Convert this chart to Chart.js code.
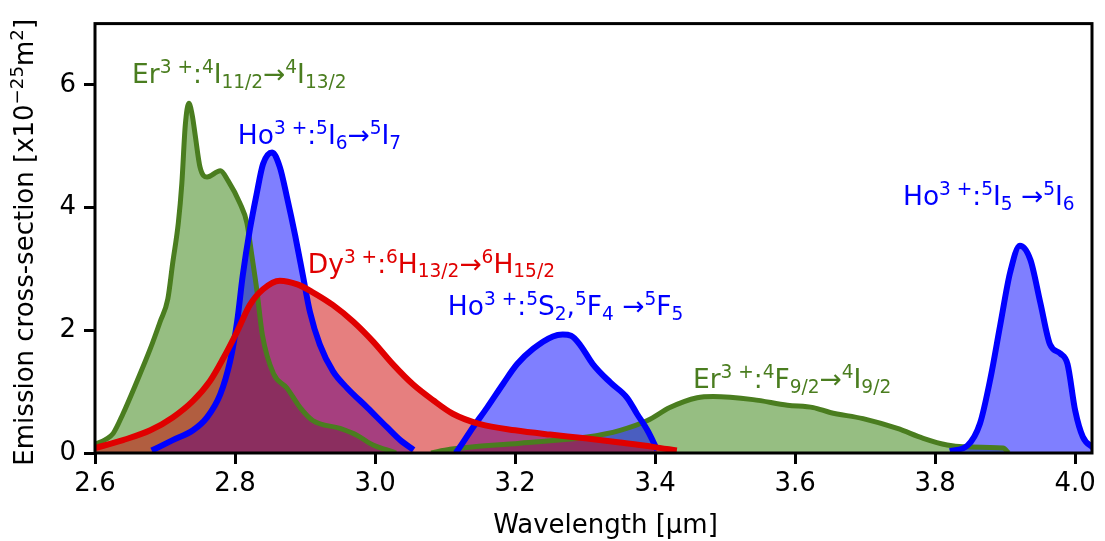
<!DOCTYPE html>
<html>
<head>
<meta charset="utf-8">
<script src="https://cdn.jsdelivr.net/npm/chart.js@4"></script>
<style>
  html, body { margin: 0; padding: 0; background: #fff; }
  canvas { display: block; }
</style>
</head>
<body>
<canvas id="chartCanvas" width="1105" height="541"></canvas>
<script>
// axis ticks
const xTicks = [2.6, 2.8, 3.0, 3.2, 3.4, 3.6, 3.8, 4.0];
const yTicks = [0, 2, 4, 6];

// Er3+ 4I11/2 -> 4I13/2
const erAx = [2.600, 2.615, 2.626, 2.640, 2.660, 2.679, 2.693, 2.704, 2.711, 2.719, 2.724, 2.729, 2.734, 2.739, 2.743, 2.750, 2.760, 2.779, 2.790, 2.807, 2.817, 2.824, 2.831, 2.839, 2.855, 2.874, 2.893, 2.911, 2.950, 2.974, 2.997, 3.017, 3.030];
const erAy = [0.14, 0.22, 0.32, 0.64, 1.17, 1.70, 2.14, 2.51, 3.10, 3.75, 4.39, 5.35, 5.70, 5.50, 5.19, 4.66, 4.50, 4.60, 4.44, 4.07, 3.75, 3.22, 2.67, 1.93, 1.29, 1.06, 0.74, 0.53, 0.40, 0.29, 0.13, 0.05, 0.00];

// Er3+ 4F9/2 -> 4I9/2
const erBx = [3.080, 3.107, 3.207, 3.303, 3.350, 3.389, 3.421, 3.460, 3.483, 3.540, 3.589, 3.626, 3.650, 3.697, 3.746, 3.783, 3.817, 3.840, 3.897, 3.905];
const erBy = [0.00, 0.06, 0.16, 0.26, 0.37, 0.53, 0.74, 0.90, 0.92, 0.87, 0.78, 0.74, 0.66, 0.56, 0.40, 0.24, 0.13, 0.10, 0.08, 0.00];

// Ho3+ 5I6 -> 5I7
const hoAx = [2.681, 2.711, 2.740, 2.760, 2.779, 2.793, 2.803, 2.811, 2.821, 2.831, 2.840, 2.853, 2.864, 2.874, 2.886, 2.897, 2.907, 2.921, 2.940, 2.960, 2.989, 3.017, 3.036, 3.055];
const hoAy = [0.04, 0.21, 0.37, 0.58, 0.96, 1.50, 2.14, 2.89, 3.63, 4.23, 4.71, 4.90, 4.66, 4.18, 3.54, 2.89, 2.30, 1.77, 1.33, 1.06, 0.74, 0.42, 0.21, 0.05];

// Ho3+ 5S2,5F4 -> 5F5
const hoBx = [3.115, 3.119, 3.140, 3.160, 3.183, 3.203, 3.226, 3.254, 3.268, 3.280, 3.293, 3.311, 3.336, 3.360, 3.374, 3.389, 3.403];
const hoBy = [0.00, 0.06, 0.42, 0.74, 1.13, 1.45, 1.70, 1.90, 1.93, 1.91, 1.76, 1.45, 1.15, 0.90, 0.64, 0.37, 0.05];

// Ho3+ 5I5 -> 5I6
const hoCx = [3.821, 3.846, 3.864, 3.879, 3.893, 3.907, 3.921, 3.936, 3.950, 3.964, 3.979, 3.989, 4.000, 4.011, 4.026];
const hoCy = [0.03, 0.12, 0.48, 1.22, 2.09, 2.94, 3.38, 3.15, 2.46, 1.77, 1.62, 1.45, 0.69, 0.26, 0.08];

// Dy3+ 6H13/2 -> 6H15/2
const dyX = [2.600, 2.640, 2.679, 2.711, 2.740, 2.764, 2.783, 2.803, 2.821, 2.840, 2.864, 2.889, 2.911, 2.940, 2.969, 2.997, 3.026, 3.054, 3.083, 3.111, 3.150, 3.200, 3.250, 3.300, 3.350, 3.397, 3.431];
const dyY = [0.08, 0.21, 0.37, 0.58, 0.85, 1.17, 1.54, 1.98, 2.41, 2.67, 2.81, 2.75, 2.62, 2.41, 2.14, 1.82, 1.44, 1.12, 0.86, 0.64, 0.47, 0.37, 0.30, 0.24, 0.17, 0.10, 0.04];

// annotation anchors (data coords, left / baseline)
const labelX = [2.653, 2.804, 2.904, 3.104, 3.454, 3.754];
const labelY = [6.03, 5.03, 2.94, 2.25, 1.06, 4.04];
const labelParts = [
  [["Er", "n"], ["3 +", "sup"], [":", "n"], ["4", "sup"], ["I", "n"], ["11/2", "sub"], ["→", "n"], ["4", "sup"], ["I", "n"], ["13/2", "sub"]],
  [["Ho", "n"], ["3 +", "sup"], [":", "n"], ["5", "sup"], ["I", "n"], ["6", "sub"], ["→", "n"], ["5", "sup"], ["I", "n"], ["7", "sub"]],
  [["Dy", "n"], ["3 +", "sup"], [":", "n"], ["6", "sup"], ["H", "n"], ["13/2", "sub"], ["→", "n"], ["6", "sup"], ["H", "n"], ["15/2", "sub"]],
  [["Ho", "n"], ["3 +", "sup"], [":", "n"], ["5", "sup"], ["S", "n"], ["2", "sub"], [",", "n"], ["5", "sup"], ["F", "n"], ["4", "sub"], [" →", "n"], ["5", "sup"], ["F", "n"], ["5", "sub"]],
  [["Er", "n"], ["3 +", "sup"], [":", "n"], ["4", "sup"], ["F", "n"], ["9/2", "sub"], ["→", "n"], ["4", "sup"], ["I", "n"], ["9/2", "sub"]],
  [["Ho", "n"], ["3 +", "sup"], [":", "n"], ["5", "sup"], ["I", "n"], ["5", "sub"], [" →", "n"], ["5", "sup"], ["I", "n"], ["6", "sub"]],
];
const labelColors = ["#4a7d1f", "#0000ff", "#e00000", "#0000ff", "#4a7d1f", "#0000ff"];

const yTitle = [["Emission cross-section [x10", "n"], ["−25", "sup"], ["m", "n"], ["2", "sup"], ["]", "n"]];

const FONT = '"DejaVu Sans"';
const FS = 26;
const LABEL_FS = 26.5;

const pts = (xs, ys) => xs.map((x, i) => ({ x: x, y: ys[i] }));

const band = (xs, ys, line, fill, width, order) => ({
  data: pts(xs, ys),
  borderColor: line,
  backgroundColor: fill,
  borderWidth: width,
  fill: "origin",
  pointRadius: 0,
  cubicInterpolationMode: "monotone",
  order: order,
});

const drawMath = (ctx, parts, x, y, size) => {
  let cx = x;
  parts.forEach(([txt, kind]) => {
    const s = kind === "n" ? size : size * 0.7;
    const dy = kind === "sup" ? -size * 0.38 : kind === "sub" ? size * 0.18 : 0;
    ctx.font = `${s}px ${FONT}`;
    ctx.fillText(txt, cx, y + dy);
    cx += ctx.measureText(txt).width;
  });
  return cx - x;
};

const mathWidth = (ctx, parts, size) => {
  let w = 0;
  parts.forEach(([txt, kind]) => {
    ctx.font = `${kind === "n" ? size : size * 0.7}px ${FONT}`;
    w += ctx.measureText(txt).width;
  });
  return w;
};

const decor = {
  id: "decor",
  afterDatasetsDraw(chart) {
    const { ctx, scales } = chart;
    ctx.save();
    ctx.textBaseline = "alphabetic";
    ctx.textAlign = "left";
    labelParts.forEach((parts, i) => {
      ctx.fillStyle = labelColors[i];
      drawMath(ctx, parts, scales.x.getPixelForValue(labelX[i]), scales.y.getPixelForValue(labelY[i]), LABEL_FS);
    });
    ctx.restore();
  },
  afterDraw(chart) {
    const { ctx, chartArea: a } = chart;
    ctx.save();
    ctx.strokeStyle = "#000";
    ctx.lineWidth = 3;
    ctx.strokeRect(a.left, a.top, a.right - a.left, a.bottom - a.top);

    ctx.fillStyle = "#000";
    ctx.textBaseline = "alphabetic";
    ctx.textAlign = "left";
    ctx.font = `${FS}px ${FONT}`;
    const xt = "Wavelength [µm]";
    ctx.fillText(xt, (a.left + a.right) / 2 + 12 - ctx.measureText(xt).width / 2, 533);

    ctx.translate(33, (a.top + a.bottom) / 2 + 4);
    ctx.rotate(-Math.PI / 2);
    const w = mathWidth(ctx, yTitle, FS);
    drawMath(ctx, yTitle, -w / 2, 0, FS);
    ctx.restore();
  },
};

const tickFont = { family: "DejaVu Sans", size: FS };

new Chart(document.getElementById("chartCanvas").getContext("2d"), {
  type: "line",
  data: {
    datasets: [
      band(dyX, dyY, "#e00000", "rgba(205,0,0,0.5)", 6, 1),
      band(hoAx, hoAy, "#0000ff", "rgba(0,0,255,0.5)", 6, 2),
      band(hoBx, hoBy, "#0000ff", "rgba(0,0,255,0.5)", 6, 2),
      band(hoCx, hoCy, "#0000ff", "rgba(0,0,255,0.5)", 6, 2),
      band(erAx, erAy, "#4a7d1f", "rgba(45,125,5,0.5)", 5, 3),
      band(erBx, erBy, "#4a7d1f", "rgba(45,125,5,0.5)", 5, 3),
    ],
  },
  options: {
    responsive: false,
    animation: false,
    devicePixelRatio: 1,
    layout: { padding: { top: 18, right: 13, left: 0, bottom: 0 } },
    plugins: {
      legend: { display: false },
      tooltip: { enabled: false },
      filler: { drawTime: "beforeDatasetsDraw" },
    },
    scales: {
      x: {
        type: "linear",
        min: 2.6,
        max: 4.024,
        afterBuildTicks: (s) => { s.ticks = xTicks.map((v) => ({ value: v })); },
        afterFit: (s) => { s.height = 88; },
        ticks: { color: "#000", font: tickFont, padding: 5, maxRotation: 0, callback: (v) => v.toFixed(1) },
        grid: { drawOnChartArea: false, drawTicks: true, tickLength: 11, tickWidth: 3, tickColor: "#000" },
        border: { display: false },
      },
      y: {
        type: "linear",
        min: 0,
        max: 7,
        afterBuildTicks: (s) => { s.ticks = yTicks.map((v) => ({ value: v })); },
        afterFit: (s) => { s.width = 95; },
        ticks: { color: "#000", font: tickFont, padding: 8, callback: (v) => String(v) },
        grid: { drawOnChartArea: false, drawTicks: true, tickLength: 11, tickWidth: 3, tickColor: "#000" },
        border: { display: false },
      },
    },
  },
  plugins: [decor],
});
</script>
</body>
</html>
